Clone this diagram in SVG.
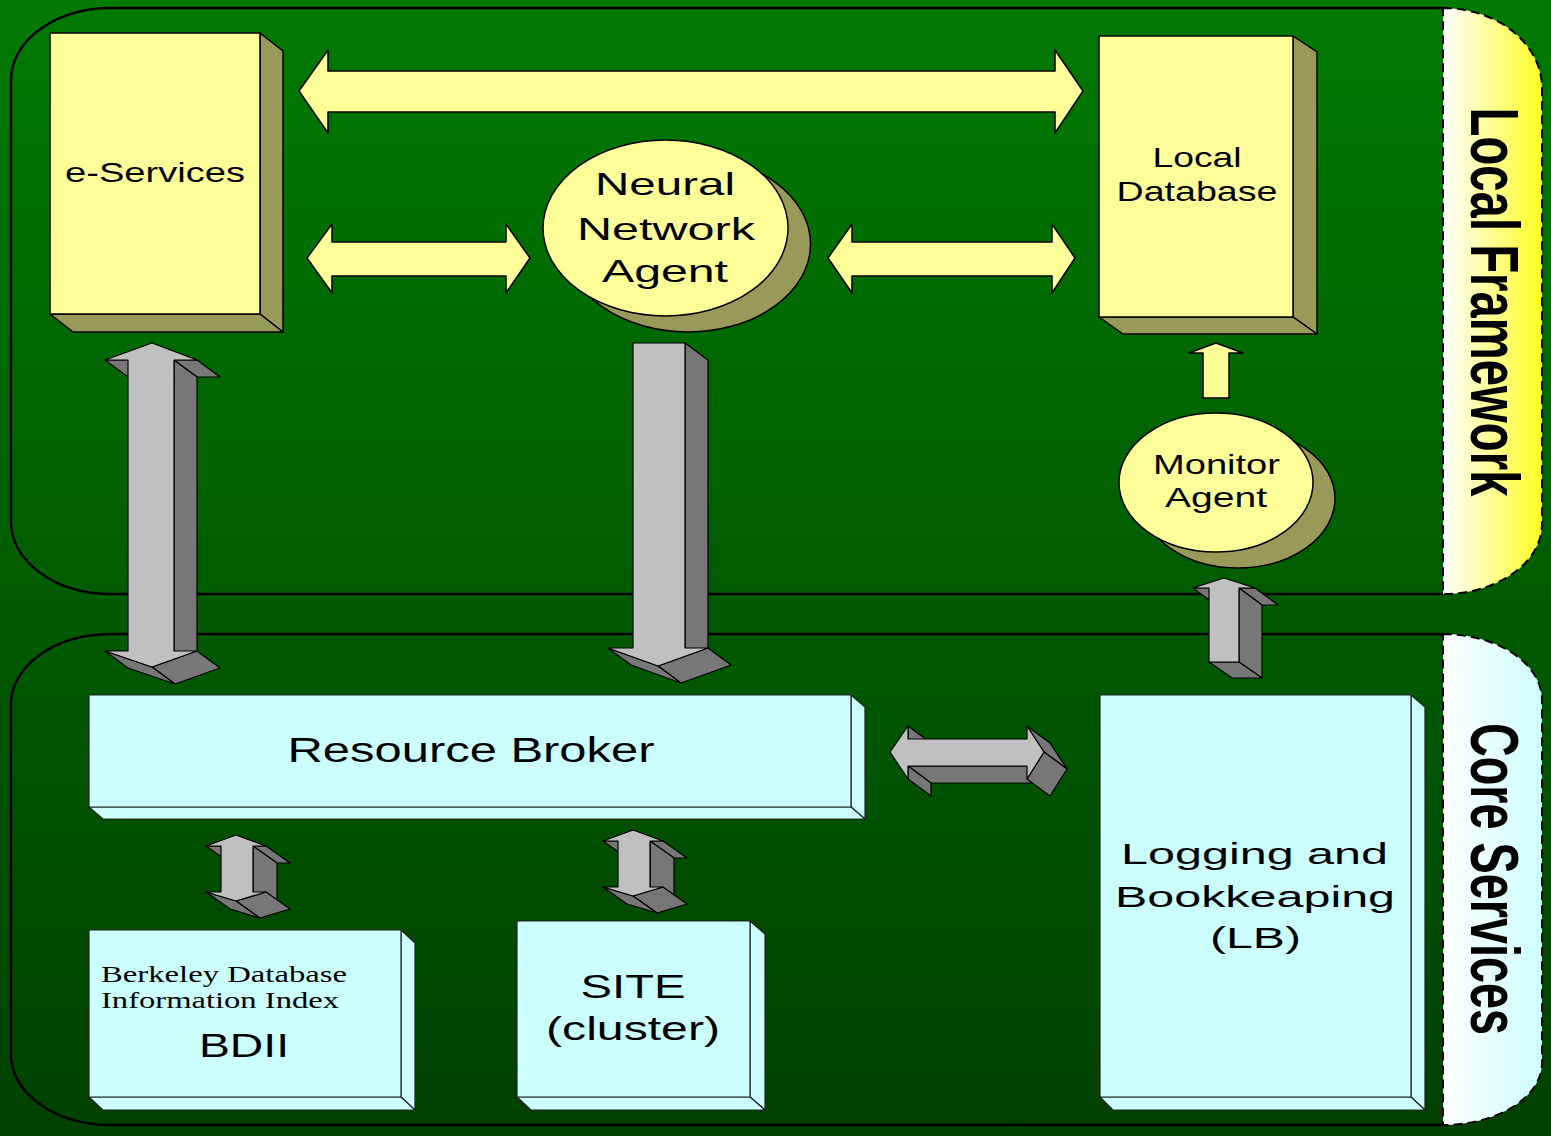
<svg xmlns="http://www.w3.org/2000/svg" width="1551" height="1136" viewBox="0 0 1551 1136">
<defs>
<linearGradient id="bg" x1="0" y1="0" x2="0" y2="1">
<stop offset="0" stop-color="#007a00"/>
<stop offset="1" stop-color="#004000"/>
</linearGradient>
<linearGradient id="tabY" x1="0" y1="0" x2="1" y2="0">
<stop offset="0" stop-color="#ffffff"/>
<stop offset="1" stop-color="#ffff22"/>
</linearGradient>
<linearGradient id="tabC" x1="0" y1="0" x2="1" y2="0">
<stop offset="0" stop-color="#ffffff"/>
<stop offset="1" stop-color="#ccffff"/>
</linearGradient>
<g id="smallArrow">
<polygon class="gd" points="206,846 221,846 245,863 230,863"/>
<polygon class="gd" points="253,846 266,846 290,863 277,863"/>
<polygon class="gd" points="253,846 277,863 277,909 253,892"/>
<polygon class="gd" points="266,892 236,901 260,918 290,909"/>
<polygon class="gd" points="236,901 206,892 230,909 260,918"/>
<polygon class="gf" points="236,835 266,846 253,846 253,892 266,892 236,901 206,892 221,892 221,846 206,846"/>
</g>
</defs>
<style>
.frame{fill:none;stroke:#000;stroke-width:2.5}
.tab{stroke:#000;stroke-width:2;stroke-dasharray:9 5}
.yf{fill:#ffff99;stroke:#000;stroke-width:1.5;stroke-linejoin:round}
.ys{fill:#999959;stroke:#000;stroke-width:1.5;stroke-linejoin:round}
.cf{fill:#ccffff;stroke:#222;stroke-width:1.2;stroke-linejoin:round}
.gf{fill:#c0c0c0;stroke:#000;stroke-width:1.2;stroke-linejoin:round}
.gd{fill:#777777;stroke:#000;stroke-width:1.2;stroke-linejoin:round}
.t{font-family:"Liberation Sans",Arial,sans-serif;fill:#000;text-anchor:middle}
.s{font-family:"Liberation Serif","Times New Roman",serif;fill:#000}
.tt{font-family:"Liberation Sans",Arial,sans-serif;font-weight:bold;fill:#000;text-anchor:middle;font-size:68px}
</style>
<rect x="0" y="0" width="1551" height="1136" fill="url(#bg)"/>

<g id="frames">
<path class="frame" d="M1443 8 H111 A100 72 0 0 0 11 80 V522 A100 72 0 0 0 111 594 H1443"/>
<path class="frame" d="M1443 634 H110 A100 70 0 0 0 11 704 V1055 A100 70 0 0 0 110 1125 H1443"/>
</g>

<g id="tab-local-framework">
<path class="tab" fill="url(#tabY)" d="M1443 8 A99 80 0 0 1 1542 88 V524 A99 70 0 0 1 1443 594 Z"/>
<text class="tt" transform="translate(1471,302) rotate(90) scale(0.6955,1)">Local Framework</text>
</g>
<g id="tab-core-services">
<path class="tab" fill="url(#tabC)" d="M1443 634 A99 66 0 0 1 1542 700 V1063 A99 62 0 0 1 1443 1125 Z"/>
<text class="tt" transform="translate(1471,879) rotate(90) scale(0.688,1)">Core Services</text>
</g>

<g id="connectors">
<polygon class="yf" points="299,91 328,50 328,71 1055,71 1055,50 1083,91 1055,133 1055,112 328,112 328,133"/>
<polygon class="yf" points="307,258 332,224 332,242 506,242 506,224 530,258 506,293 506,276 332,276 332,293"/>
<polygon class="yf" points="828,258 852,224 852,242 1052,242 1052,224 1075,258 1052,293 1052,276 852,276 852,293"/>
<polygon class="yf" points="1216,343 1243,353 1229,353 1229,398 1203,398 1203,353 1189,353"/>

<g id="arrow-eservices-rb">
<polygon class="gd" points="105,360 128,360 151,377 128,377"/>
<polygon class="gd" points="174,360 197,360 220,377 197,377"/>
<polygon class="gd" points="174,360 197,377 197,668 174,651"/>
<polygon class="gd" points="197,651 152,667 175,684 220,668"/>
<polygon class="gd" points="152,667 105,651 128,668 175,684"/>
<polygon class="gf" points="152,343 197,360 174,360 174,651 197,651 152,667 105,651 128,651 128,360 105,360"/>
</g>
<g id="arrow-nn-rb">
<polygon class="gd" points="685,343 708,360 708,665 685,648"/>
<polygon class="gd" points="708,648 658,666 681,683 731,665"/>
<polygon class="gd" points="658,666 608,648 631,665 681,683"/>
<polygon class="gf" points="633,343 685,343 685,648 708,648 658,666 608,648 633,648"/>
</g>
<g id="arrow-lb-monitor">
<polygon class="gd" points="1193,588 1209,588 1232,605 1216,605"/>
<polygon class="gd" points="1239,588 1255,588 1278,605 1262,605"/>
<polygon class="gd" points="1239,588 1262,605 1262,678 1239,662"/>
<polygon class="gd" points="1209,662 1239,662 1262,678 1232,678"/>
<polygon class="gf" points="1224,578 1255,588 1239,588 1239,662 1209,662 1209,588 1193,588"/>
</g>
<g id="arrow-rb-lb">
<polygon class="gd" points="908,766 1027,766 1050,783 931,783"/>
<polygon class="gd" points="908,726 931,743 931,756 908,739"/>
<polygon class="gd" points="908,766 908,779 931,796 931,783"/>
<polygon class="gd" points="1027,726 1044,752 1067,769 1050,743"/>
<polygon class="gd" points="1044,752 1027,779 1050,796 1067,769"/>
<polygon class="gf" points="890,752 908,726 908,739 1027,739 1027,726 1044,752 1027,779 1027,766 908,766 908,779"/>
</g>
<use id="arrow-rb-bdii" href="#smallArrow"/>
<use id="arrow-rb-site" href="#smallArrow" transform="translate(397,-5)"/>
</g>

<g id="e-services">
<polygon class="ys" points="260,33 283,51 283,332 260,314"/>
<polygon class="ys" points="50,314 260,314 283,332 73,332"/>
<rect class="yf" x="50" y="33" width="210" height="281"/>
<text class="t" x="155" y="182" font-size="28" textLength="180" lengthAdjust="spacingAndGlyphs">e-Services</text>
</g>

<g id="local-database">
<polygon class="ys" points="1293,36 1317,52 1317,334 1293,317"/>
<polygon class="ys" points="1099,317 1293,317 1317,334 1123,334"/>
<rect class="yf" x="1099" y="36" width="194" height="281"/>
<text class="t" x="1197" y="167" font-size="28" textLength="89" lengthAdjust="spacingAndGlyphs">Local</text>
<text class="t" x="1197" y="201" font-size="28" textLength="161" lengthAdjust="spacingAndGlyphs">Database</text>
</g>

<g id="neural-network-agent">
<ellipse class="ys" cx="688" cy="244" rx="122.5" ry="88"/>
<ellipse class="yf" cx="665.5" cy="228" rx="122.5" ry="88"/>
<text class="t" x="665" y="195" font-size="32" textLength="140" lengthAdjust="spacingAndGlyphs">Neural</text>
<text class="t" x="666" y="240" font-size="32" textLength="178" lengthAdjust="spacingAndGlyphs">Network</text>
<text class="t" x="665" y="282" font-size="32" textLength="126" lengthAdjust="spacingAndGlyphs">Agent</text>
</g>

<g id="monitor-agent">
<ellipse class="ys" cx="1238" cy="498.5" rx="97" ry="69.5"/>
<ellipse class="yf" cx="1216" cy="482.5" rx="97" ry="69.5"/>
<text class="t" x="1216.5" y="474" font-size="28" textLength="127" lengthAdjust="spacingAndGlyphs">Monitor</text>
<text class="t" x="1216" y="507" font-size="28" textLength="102" lengthAdjust="spacingAndGlyphs">Agent</text>
</g>

<g id="resource-broker">
<polygon class="cf" points="851,695 865,707 865,819 851,807"/>
<polygon class="cf" points="89,807 851,807 865,819 103,819"/>
<rect class="cf" x="89" y="695" width="762" height="112"/>
<text class="t" x="471" y="762" font-size="35" textLength="367" lengthAdjust="spacingAndGlyphs">Resource Broker</text>
</g>

<g id="bdii">
<polygon class="cf" points="401,930 415,943 415,1110 401,1097"/>
<polygon class="cf" points="89,1097 401,1097 415,1110 103,1110"/>
<rect class="cf" x="89" y="930" width="312" height="167"/>
<text class="s" x="101" y="982" font-size="23" textLength="246" lengthAdjust="spacingAndGlyphs">Berkeley Database</text>
<text class="s" x="101" y="1008" font-size="23" textLength="238" lengthAdjust="spacingAndGlyphs">Information Index</text>
<text class="t" x="244" y="1057" font-size="34" textLength="90" lengthAdjust="spacingAndGlyphs">BDII</text>
</g>

<g id="site">
<polygon class="cf" points="750,921 765,934 765,1110 750,1097"/>
<polygon class="cf" points="517,1097 750,1097 765,1110 531,1110"/>
<rect class="cf" x="517" y="921" width="233" height="176"/>
<text class="t" x="633" y="998" font-size="34" textLength="105" lengthAdjust="spacingAndGlyphs">SITE</text>
<text class="t" x="633" y="1040" font-size="34" textLength="174" lengthAdjust="spacingAndGlyphs">(cluster)</text>
</g>

<g id="logging-bookkeeping">
<polygon class="cf" points="1411,695 1425,707 1425,1110 1411,1097"/>
<polygon class="cf" points="1100,1097 1411,1097 1425,1110 1113,1110"/>
<rect class="cf" x="1100" y="695" width="311" height="402"/>
<text class="t" x="1254.5" y="864" font-size="30" textLength="267" lengthAdjust="spacingAndGlyphs">Logging and</text>
<text class="t" x="1255" y="907" font-size="30" textLength="280" lengthAdjust="spacingAndGlyphs">Bookkeaping</text>
<text class="t" x="1255.5" y="948" font-size="30" textLength="91" lengthAdjust="spacingAndGlyphs">(LB)</text>
</g>
</svg>
